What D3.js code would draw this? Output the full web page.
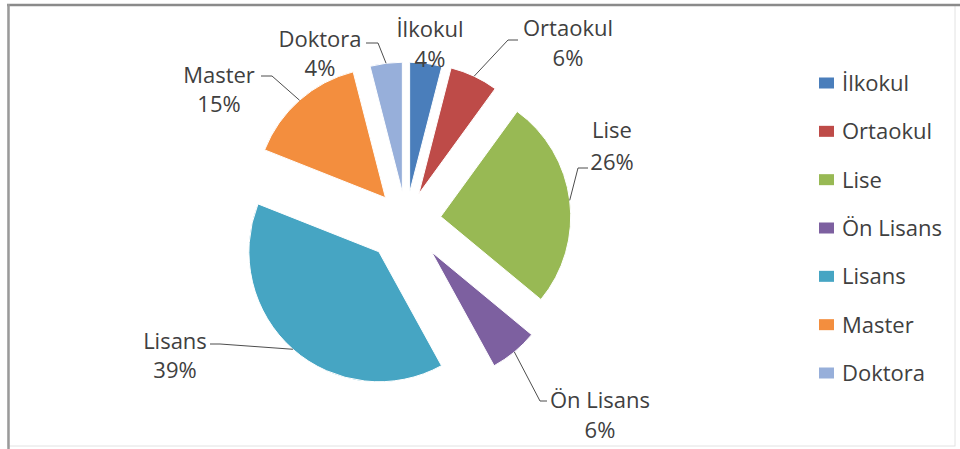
<!DOCTYPE html>
<html>
<head>
<meta charset="utf-8">
<script src="https://cdn.jsdelivr.net/npm/d3@7"></script>
<style>
  html, body { margin: 0; padding: 0; background: #fff; }
  svg { display: block; }
  text { font-family: "Open Sans", "Noto Sans", sans-serif; fill: #404040; }
</style>
</head>
<body>
<svg id="chart" width="960" height="449"></svg>
<script>
// Education level distribution (percent)
const categories = ["İlkokul", "Ortaokul", "Lise", "Ön Lisans", "Lisans", "Master", "Doktora"];
const percents   = [4, 6, 26, 6, 39, 15, 4];
const colors     = ["#4A7EBB", "#BE4B48", "#98B954", "#7D60A0", "#46A5C3", "#F38E3E", "#97AFDA"];

const svg = d3.select("#chart");
const W = 960, H = 449;

// frame
svg.append("rect").attr("x", 8).attr("y", 5).attr("width", 947).attr("height", 441)
  .attr("fill", "#fff").attr("stroke", "#e2e2e2").attr("stroke-width", 1);
svg.append("line").attr("x1", 7).attr("x2", W).attr("y1", 5).attr("y2", 5)
  .attr("stroke", "#8a8a8a").attr("stroke-width", 2.5);
svg.append("line").attr("x1", 8.5).attr("x2", 8.5).attr("y1", 4).attr("y2", H)
  .attr("stroke", "#9a9a9a").attr("stroke-width", 2.5);

// pie geometry
const cx = 406, cy = 221, R = 130;
const explode = [29, 30, 35, 40, 41, 31, 29];

const data = categories.map((c, i) => ({ name: c, value: percents[i], color: colors[i], i }));
const pie = d3.pie().value(d => d.value).sort(null).startAngle(0).endAngle(2 * Math.PI);
const arcs = pie(data);
const arc = d3.arc().innerRadius(0).outerRadius(R);

const dir = a => [Math.sin(a), -Math.cos(a)];

const g = svg.append("g").attr("transform", `translate(${cx},${cy})`);
arcs.forEach(a => {
  const mid = (a.startAngle + a.endAngle) / 2;
  const [dx, dy] = dir(mid);
  const e = explode[a.index];
  a.ox = dx * e; a.oy = dy * e; a.mid = mid;
  g.append("path")
    .attr("d", arc(a))
    .attr("transform", `translate(${a.ox},${a.oy})`)
    .attr("fill", a.data.color)
    .attr("stroke", "#fff").attr("stroke-width", 1);
});

// data labels: name + percent, with leader lines to the slice arc
const labelLayout = [
  { x: 430, y: 37, lead: null },
  { x: 568, y: 36, lead: [[518, 40], [508, 40]] },
  { x: 612, y: 138, lead: [[588, 168], [578, 168]] },
  { x: 600, y: 408, lead: [[547, 401], [540, 401]] },
  { x: 175, y: 349, lead: [[210, 344], [220, 344]] },
  { x: 219, y: 83, lead: [[261, 76], [272, 76]] },
  { x: 320, y: 47, lead: [[366, 43], [378, 43]] }
];
const lineGap = [30, 30, 32, 30, 29, 29, 29];

arcs.forEach(a => {
  const L = labelLayout[a.index];
  if (L.lead) {
    const [ux, uy] = dir(a.mid);
    const end = [cx + a.ox + ux * R, cy + a.oy + uy * R];
    const pts = L.lead.concat([end]);
    svg.append("path")
      .attr("d", d3.line()(pts))
      .attr("fill", "none").attr("stroke", "#4d4d4d").attr("stroke-width", 1);
  }
  const t = svg.append("text").attr("text-anchor", "middle").attr("font-size", 22);
  t.append("tspan").attr("x", L.x).attr("y", L.y).text(a.data.name);
  t.append("tspan").attr("x", L.x).attr("y", L.y + lineGap[a.index]).text(d3.format(".0f")(a.data.value) + "%");
});

// legend
const legendY = d3.scalePoint().domain(categories).range([83, 373]);
const lg = svg.append("g");
categories.forEach((c, i) => {
  const y = legendY(c);
  lg.append("rect").attr("x", 819).attr("y", y - 5.5).attr("width", 15).attr("height", 11).attr("fill", colors[i]);
  lg.append("text").attr("x", 842).attr("y", y + 8).attr("font-size", 22).text(c);
});
</script>
</body>
</html>
